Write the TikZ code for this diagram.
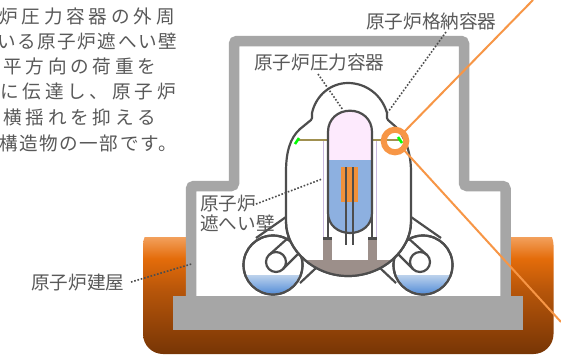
\documentclass[tikz,border=0pt]{standalone}
\usepackage{fontspec}
\setmainfont{Noto Sans CJK JP}[Scale=1]
\newfontfamily\wide[LetterSpace=20.5]{Noto Sans CJK JP}
\newfontfamily\narrow[LetterSpace=8.3]{Noto Sans CJK JP}
\definecolor{txt}{HTML}{595959}
\definecolor{wall}{HTML}{A6A6A6}
\definecolor{vess}{HTML}{4D4D4D}
\definecolor{ora}{HTML}{F79646}
\definecolor{corec}{HTML}{F0913A}
\definecolor{wat}{HTML}{8DB0E0}
\definecolor{pinkv}{HTML}{FDEAFD}
\definecolor{ped}{HTML}{9C8F8A}
\definecolor{shld}{HTML}{C8B8DE}
\definecolor{stab}{HTML}{A09050}
\definecolor{ga}{HTML}{773505}
\definecolor{gb}{HTML}{B8560A}
\definecolor{gc}{HTML}{E46C0A}
\definecolor{gd}{HTML}{FBBD8A}
\definecolor{pa}{HTML}{4A86D6}
\definecolor{pb}{HTML}{BCD2EC}
\pgfdeclareverticalshading{groundsh}{100bp}{color(0bp)=(ga);color(25bp)=(ga);color(50bp)=(gb);color(62bp)=(gc);color(75bp)=(gd);color(100bp)=(gd)}
\pgfdeclareverticalshading{poolsh}{100bp}{color(0bp)=(pa);color(25bp)=(pa);color(75bp)=(pb);color(100bp)=(pb)}
\tikzset{
 lbl/.style={text=txt,font=\fontsize{18.6}{18.6}\selectfont,inner sep=0pt,anchor=west},
 lead/.style={draw=vess,line width=1.6pt,dash pattern=on 1.6pt off 1.8pt},
 vline/.style={draw=vess,line width=2.2pt},
 zoomline/.style={draw=ora,line width=2pt},
}
\begin{document}
\begin{tikzpicture}[x=1pt,y=-1pt]
\useasboundingbox (0,0) rectangle (561,354);
\fill[white] (0,0) rectangle (561,354);
% ground
\path[shading=groundsh,rounded corners=20pt] (143,225) -- (143,354) -- (553.5,354) -- (553.5,225) -- cycle;
\fill[white] (140,220) rectangle (556,237);
% building
\fill[white] (191,186) -- (234,186) -- (234,41) -- (464,41) -- (464,186) -- (505.5,186) -- (505.5,300) -- (191,300) -- cycle;
\draw[wall,line width=10.5pt,rounded corners=3pt] (191,297) -- (191,186) -- (234,186) -- (234,41) -- (464,41) -- (464,186) -- (505.5,186) -- (505.5,297);
\fill[wall] (173,296) rectangle (523,329.5);
% pools
\foreach \cx/\vx/\sgn in {273/276/1,423/420/-1}{
  \draw[vline,fill=white] (\cx,265) circle[radius=29.5];
  \begin{scope}
    \clip (\cx,265) circle[radius=28.6];
    \path[shading=poolsh] (\cx-30,275) rectangle (\cx+30,296);
  \end{scope}
  \draw[vline] (\cx,265) circle[radius=29.5];
  \draw[vline] (\vx,262) circle[radius=10];
}
\draw[vline] (269,255) -- (288,238) (283,269) -- (299,253);
\draw[vline] (427,255) -- (408,238) (413,269) -- (397,253);
\draw[vline] (286,217) -- (256,238) (316,268) -- (300,283);
\draw[vline] (411,217) -- (441,238) (380,268) -- (396,283);
% containment
\draw[vline,fill=white] (312,113)
  .. controls (316,95) and (331,83) .. (348,83)
  .. controls (366,83) and (382,95) .. (387,113)
  -- (387,118) -- (388,120) -- (396,127)
  .. controls (405,137) and (411,152) .. (411,172)
  -- (411,222) .. controls (411,250) and (383,276) .. (348,276)
  .. controls (314,276) and (286,250) .. (286,222)
  -- (286,172) .. controls (286,152) and (290,138) .. (300,129)
  -- (311,120) -- (312,118) -- cycle;
% pedestal
\begin{scope}
  \clip (270,260.5) rectangle (430,280);
  \fill[ped] (411,222) .. controls (411,250) and (383,276) .. (348,276)
  .. controls (314,276) and (286,250) .. (286,222) -- cycle;
\end{scope}
\fill[ped] (323,237) rectangle (331.7,262);
\fill[ped] (367.7,237) rectangle (376.7,262);
\fill[vess] (323,237) rectangle (331.7,239.5);
\fill[vess] (367.7,237) rectangle (376.7,239.5);
\draw[vline] (411,222) .. controls (411,250) and (383,276) .. (348,276)
  .. controls (314,276) and (286,250) .. (286,222);
% shield wall
\draw[shld,line width=1.4pt] (323.5,140) -- (323.5,237);
\draw[shld,line width=1.4pt] (376.5,140) -- (376.5,237);
% stabilizers
\draw[stab,line width=1.5pt] (297,140) -- (328,140) (372,140) -- (401,140);
\draw[green,line width=2.6pt] (295,144) -- (299,138);
\draw[green,line width=2.6pt] (398,137) -- (402,143);
% vessel
\fill[pinkv] (328,165) -- (328,132) .. controls (328,119) and (338,110.7) .. (350,110.7) .. controls (362,110.7) and (372,119) .. (372,132) -- (372,165) -- cycle;
\fill[wat] (328,160) -- (372,160) -- (372,213) .. controls (372,225) and (362,233) .. (350,233) .. controls (338,233) and (328,225) .. (328,213) -- cycle;
\fill[corec] (340.7,167) rectangle (357.7,201.7);
\draw[vline] (345.7,167) -- (345.7,245) (352.7,167) -- (352.7,245);
\draw[vline] (328,213) -- (328,132) .. controls (328,119) and (338,110.7) .. (350,110.7) .. controls (362,110.7) and (372,119) .. (372,132) -- (372,213) .. controls (372,225) and (362,233) .. (350,233) .. controls (338,233) and (328,225) .. (328,213) -- cycle;
\draw[vline] (328,213) -- (328,237) (372,213) -- (372,237);
% labels
\node[lbl] (t1) at (-1,16) {\wide 炉圧力容器の外周};
\node[lbl] (t2) at (-3,41) {\narrow いる原子炉遮へい壁};
\node[lbl] (t3) at (3,66) {\wide 平方向の荷重を};
\node[lbl] (t4) at (0,91.5) {\wide に伝達し、原子炉};
\node[lbl] (t5) at (3,117) {\wide 横揺れを抑える};
\node[lbl] (t6) at (-1,143) {\narrow 構造物の一部です。};
\node[lbl] (lb1) at (366,21) {原子炉格納容器};
\node[lbl] (lb2) at (254,62) {原子炉圧力容器};
\node[lbl] (lb3) at (200,204) {原子炉};
\node[lbl] (lb4) at (200,223) {遮へい壁};
\node[lbl] (lb5) at (31,283) {原子炉建屋};
% leaders
\coordinate (e1) at (388,112); \coordinate (s1) at (446,32);
\coordinate (e2) at (343,110); \coordinate (s2) at (318,74);
\coordinate (e3) at (322,179); \coordinate (s3) at (256,204);
\coordinate (e4) at (191.5,264); \coordinate (s4) at (131,282);
\draw[lead] (s1) -- (e1);
\draw[lead] (s2) -- (e2);
\draw[lead] (s3) -- (e3);
\draw[lead] (s4) -- (e4);
% zoom marker
\node[circle,draw=ora,line width=6pt,minimum size=22.6pt,inner sep=0pt,outer sep=0pt] (ring) at (395,141) {};
\coordinate (z1) at (533,0); \coordinate (z2) at (561,322);
\draw[zoomline] (ring.45) -- (z1);
\draw[zoomline] (ring.-45) -- (z2);
\end{tikzpicture}
\end{document}
